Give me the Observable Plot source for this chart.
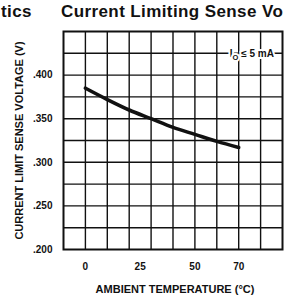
<!DOCTYPE html>
<html><head><meta charset="utf-8">
<script src="https://cdn.jsdelivr.net/npm/d3@7"></script>
<script src="https://cdn.jsdelivr.net/npm/@observablehq/plot@0.6"></script>
<style>
html,body{margin:0;padding:0;background:#fff;overflow:hidden;}
#wrap{position:relative;width:284px;height:301px;overflow:hidden;font-family:"Liberation Sans",Arial,sans-serif;}
.title{position:absolute;top:2px;font-weight:bold;font-size:17px;white-space:nowrap;line-height:20px;letter-spacing:0.4px;color:#111;z-index:2}
</style></head><body>
<div id="wrap">
<div class="title" style="left:1px">tics</div>
<div class="title" style="left:61px">Current Limiting Sense Vo</div>
</div>
<script>
// data
const temps = [0, 10, 20, 30, 40, 50, 60, 70];
const volts = [0.385, 0.372, 0.360, 0.350, 0.340, 0.332, 0.324, 0.317];
const xTicks = [0, 25, 50, 70];
const yTicks = [0.200, 0.250, 0.300, 0.350, 0.400];
const yTickLabels = [".200", ".250", ".300", ".350", ".400"];
const xGrid = [0, 10, 20, 30, 40, 50, 60, 70, 80];
const yGrid = [0.225, 0.250, 0.275, 0.300, 0.325, 0.350, 0.375, 0.400, 0.425];
const annotation = [{x: 76, y: 0.425, t: "IO ≤ 5 mA"}];
const xTitle = "AMBIENT TEMPERATURE (°C)";
const yTitle = "CURRENT LIMIT SENSE VOLTAGE (V)";

const data = temps.map((t, i) => ({t, v: volts[i]}));
const ink = "#111";

const chart = Plot.plot({
  width: 284, height: 301,
  marginLeft: 63, marginRight: 2, marginTop: 31, marginBottom: 52,
  style: {fontFamily: "Liberation Sans, Arial, sans-serif", fontWeight: "bold", fontSize: "10px", background: "transparent", color: ink},
  x: {domain: [-10, 90]},
  y: {domain: [0.2, 0.45]},
  marks: [
    Plot.ruleX(xGrid, {stroke: ink, strokeWidth: 1.4}),
    Plot.ruleY(yGrid, {stroke: ink, strokeWidth: 1.4}),
    Plot.text(annotation, {x: "x", y: "y", text: "t", fill: ink, stroke: "white", strokeWidth: 4, fontSize: 10, fontWeight: "bold"}),
    Plot.line(data, {x: "t", y: "v", stroke: ink, strokeWidth: 3.6, curve: "monotone-x"}),
    Plot.frame({stroke: ink, strokeWidth: 2}),
    Plot.axisY(yTicks, {tickSize: 0, tickPadding: 11, tickFormat: (d, i) => yTickLabels[i], fontSize: 10, label: null}),
    Plot.axisX(xTicks, {tickSize: 0, tickPadding: 13, label: null, fontSize: 10}),
    Plot.text([yTitle], {frameAnchor: "left", dx: -41, rotate: -90, lineAnchor: "bottom", textAnchor: "middle", fontSize: 11, fontWeight: "bold", fill: ink}),
    Plot.text([xTitle], {frameAnchor: "bottom", dy: 43, dx: 2, lineAnchor: "bottom", textAnchor: "middle", fontSize: 11, fontWeight: "bold", fill: ink})
  ]
});

// subscript O in the annotation
d3.select(chart).selectAll("text").each(function() {
  if (this.textContent === annotation[0].t) {
    const s = d3.select(this);
    s.text("");
    s.append("tspan").attr("font-size", 10).text("I");
    s.append("tspan").attr("dy", "3").attr("font-size", 7.5).text("O");
    s.append("tspan").attr("dy", "-3").attr("font-size", 10).text(" ≤ 5 mA");
  }
});

document.getElementById("wrap").appendChild(chart);
chart.style.position = "absolute";
chart.style.left = "0";
chart.style.top = "0";
</script>
</body></html>
